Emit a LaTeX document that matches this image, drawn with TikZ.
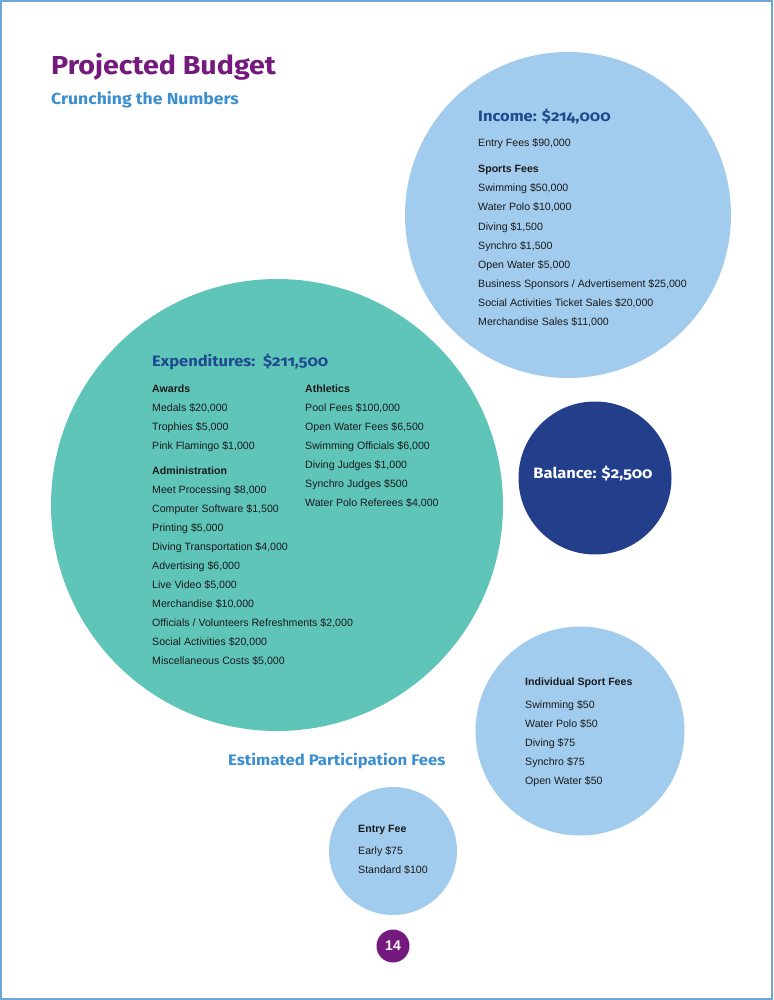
\documentclass[tikz,border=0pt]{standalone}
\usepackage{fontspec}
\setmainfont{Liberation Sans}
\newfontfamily\headfont{Fira Sans}[Numbers=OldStyle, FakeStretch=1.1]
\definecolor{incblue}{HTML}{A2CCEE}
\definecolor{teal}{HTML}{5FC5B9}
\definecolor{balblue}{HTML}{233F8C}
\definecolor{headblue}{HTML}{1F4A8F}
\definecolor{titlepurple}{HTML}{74197E}
\definecolor{subblue}{HTML}{3B8FD0}
\definecolor{bordercol}{HTML}{6FA6D8}
\definecolor{bodytext}{HTML}{1A1A1A}
\begin{document}
\begin{tikzpicture}[x=1pt,y=-1pt,
  body/.style={anchor=base west, inner sep=0pt, text=bodytext, font=\fontsize{10.6}{12}\selectfont},
  bodyb/.style={body, font=\fontsize{10.6}{12}\selectfont\bfseries},
  head/.style={anchor=base west, inner sep=0pt, text=headblue, font=\headfont\bfseries\fontsize{15}{18}\selectfont},
  bubble/.style={circle, inner sep=0pt, draw=none}
]
\useasboundingbox (0,0) rectangle (773,1000);
\fill[white] (0,0) rectangle (773,1000);
\draw[bordercol, line width=1.2pt] (1,1) rectangle (772,999);

% circles
\node[bubble, fill=incblue, minimum size=326pt] (income) at (568,215) {};
\node[bubble, fill=teal, minimum size=452pt] (expend) at (277,505) {};
\node[bubble, fill=balblue, minimum size=153pt] (balance) at (595,478) {};
\node[bubble, fill=incblue, minimum size=209pt] (indiv) at (580,731) {};
\node[bubble, fill=incblue, minimum size=128pt] (entry) at (393,851) {};
\node[bubble, fill=titlepurple, minimum size=33pt] (pagec) at (393,946) {};

% title
\node[anchor=base west, inner sep=0pt, text=titlepurple, font=\headfont\bfseries\fontsize{26}{30}\selectfont] (title) at (51,75) {Projected Budget};
\node[anchor=base west, inner sep=0pt, text=subblue, font=\headfont\bfseries\fontsize{16}{19}\selectfont] (subtitle) at (51,105) {Crunching the Numbers};

% income
\node[head] (inch) at (478,122) {Income: \$214,000};
\node[body] (i1) at (478,147) {Entry Fees \$90,000};
\node[bodyb] (i2) at (478,173) {Sports Fees};
\node[body] (i3) at (478,192) {Swimming \$50,000};
\node[body] (i4) at (478,211) {Water Polo \$10,000};
\node[body] (i5) at (478,230) {Diving \$1,500};
\node[body] (i6) at (478,249) {Synchro \$1,500};
\node[body] (i7) at (478,268) {Open Water \$5,000};
\node[body] (i8) at (478,287) {Business Sponsors / Advertisement \$25,000};
\node[body] (i9) at (478,306) {Social Activities Ticket Sales \$20,000};
\node[body] (i10) at (478,325) {Merchandise Sales \$11,000};

% expenditures
\node[head] (exph) at (152,366) {Expenditures:\ \ \$211,500};
\node[bodyb] (e1) at (152,392) {Awards};
\node[body] (e2) at (152,411) {Medals \$20,000};
\node[body] (e3) at (152,430) {Trophies \$5,000};
\node[body] (e4) at (152,449) {Pink Flamingo \$1,000};
\node[bodyb] (e5) at (152,474) {Administration};
\node[body] (e6) at (152,493) {Meet Processing \$8,000};
\node[body] (e7) at (152,512) {Computer Software \$1,500};
\node[body] (e8) at (152,531) {Printing \$5,000};
\node[body] (e9) at (152,550) {Diving Transportation \$4,000};
\node[body] (e10) at (152,569) {Advertising \$6,000};
\node[body] (e11) at (152,588) {Live Video \$5,000};
\node[body] (e12) at (152,607) {Merchandise \$10,000};
\node[body] (e13) at (152,626) {Officials / Volunteers Refreshments \$2,000};
\node[body] (e14) at (152,645) {Social Activities \$20,000};
\node[body] (e15) at (152,664) {Miscellaneous Costs \$5,000};
\node[bodyb] (a1) at (305,392) {Athletics};
\node[body] (a2) at (305,411) {Pool Fees \$100,000};
\node[body] (a3) at (305,430) {Open Water Fees \$6,500};
\node[body] (a4) at (305,449) {Swimming Officials \$6,000};
\node[body] (a5) at (305,468) {Diving Judges \$1,000};
\node[body] (a6) at (305,487) {Synchro Judges \$500};
\node[body] (a7) at (305,506) {Water Polo Referees \$4,000};

% balance
\node[anchor=base, inner sep=0pt, text=white, font=\headfont\bfseries\fontsize{15}{18}\selectfont] (balt) at (593,478) {Balance: \$2,500};

% participation fees
\node[anchor=base west, inner sep=0pt, text=subblue, font=\headfont\bfseries\fontsize{15.2}{18}\selectfont] (partt) at (228,765) {Estimated Participation Fees};

\node[bodyb] (s0) at (525,685) {Individual Sport Fees};
\node[body] (s1) at (525,708) {Swimming \$50};
\node[body] (s2) at (525,727) {Water Polo \$50};
\node[body] (s3) at (525,746) {Diving \$75};
\node[body] (s4) at (525,765) {Synchro \$75};
\node[body] (s5) at (525,784) {Open Water \$50};

\node[bodyb] (f0) at (358,832) {Entry Fee};
\node[body] (f1) at (358,854) {Early \$75};
\node[body] (f2) at (358,873) {Standard \$100};

% page number
\node[inner sep=0pt, text=white, font=\bfseries\fontsize{14}{16}\selectfont] (pagen) at (pagec) {14};
\end{tikzpicture}
\end{document}
